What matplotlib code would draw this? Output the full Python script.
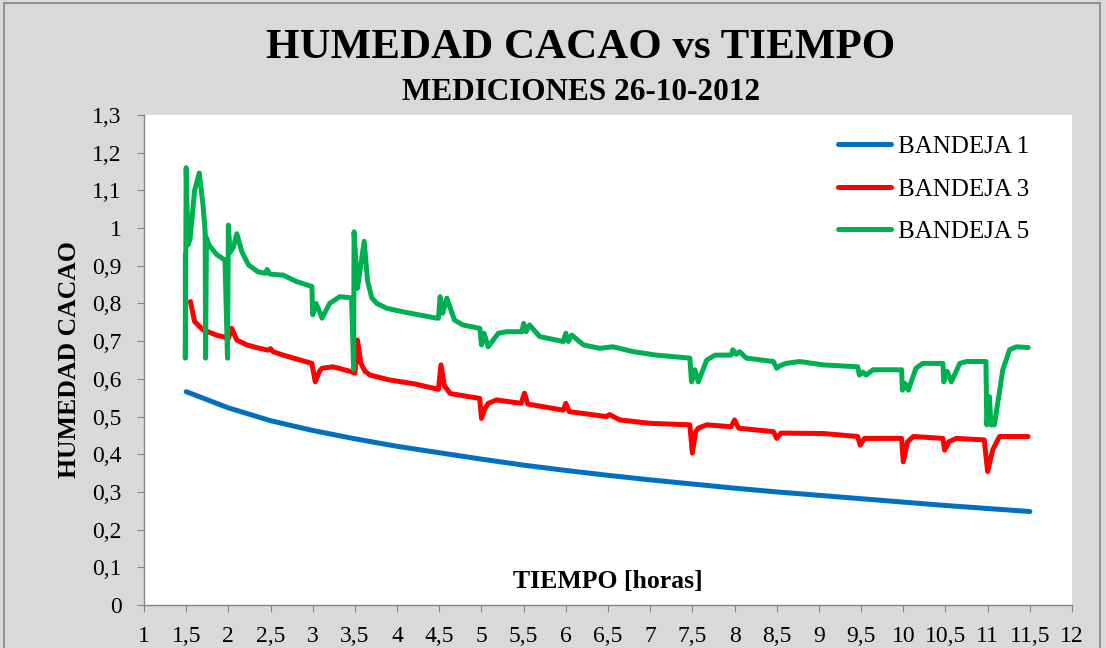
import numpy as np
import matplotlib
matplotlib.use("Agg")
import matplotlib.pyplot as plt
from matplotlib.patches import Rectangle

# Humedad del cacao por bandeja (tiempo en horas)
t_b1 = [1.5, 2.0, 2.5, 3.0, 3.5, 4.0, 4.5, 5.0, 5.5, 6.0, 6.5, 7.0, 7.5, 8.0,
        8.5, 9.0, 9.5, 10.0, 10.5, 11.0, 11.5]
h_b1 = [0.566, 0.523, 0.489, 0.463, 0.441, 0.421, 0.404, 0.387, 0.371, 0.357,
        0.344, 0.332, 0.321, 0.310, 0.300, 0.291, 0.282, 0.273, 0.264, 0.256, 0.248]

t_b3 = [1.55, 1.60, 1.70, 1.86, 2.0, 2.04, 2.10, 2.22, 2.35, 2.47, 2.5, 2.53,
        2.65, 2.85, 2.99, 3.03, 3.08, 3.11, 3.24, 3.46, 3.5, 3.53, 3.57, 3.62,
        3.68, 3.91, 4.2, 4.49, 4.52, 4.56, 4.63, 4.98, 5.0, 5.04, 5.08, 5.18,
        5.47, 5.51, 5.55, 5.97, 6.0, 6.04, 6.48, 6.52, 6.64, 7.0, 7.47, 7.5,
        7.54, 7.57, 7.67, 7.96, 8.0, 8.05, 8.46, 8.5, 8.55, 9.05, 9.46, 9.49,
        9.54, 9.98, 10.0, 10.05, 10.12, 10.47, 10.49, 10.54, 10.63, 10.96,
        11.0, 11.06, 11.14, 11.48]
h_b3 = [0.805, 0.752, 0.730, 0.716, 0.708, 0.734, 0.703, 0.690, 0.682, 0.676,
        0.680, 0.672, 0.663, 0.650, 0.641, 0.592, 0.620, 0.628, 0.632, 0.619,
        0.615, 0.703, 0.641, 0.620, 0.610, 0.597, 0.587, 0.572, 0.637, 0.582,
        0.561, 0.548, 0.495, 0.520, 0.535, 0.544, 0.535, 0.562, 0.533, 0.517,
        0.535, 0.513, 0.500, 0.505, 0.491, 0.482, 0.478, 0.403, 0.460, 0.469,
        0.478, 0.473, 0.491, 0.469, 0.460, 0.442, 0.456, 0.455, 0.447, 0.424,
        0.442, 0.442, 0.380, 0.433, 0.447, 0.442, 0.411, 0.433, 0.442, 0.438,
        0.354, 0.411, 0.447, 0.447]

t_b5 = [1.49, 1.49, 1.50, 1.52, 1.545, 1.60, 1.655, 1.70, 1.725, 1.73, 1.74,
        1.77, 1.86, 1.96, 1.99, 2.0, 2.02, 2.06, 2.10, 2.16, 2.24, 2.35, 2.44,
        2.46, 2.49, 2.65, 2.81, 2.99, 3.0, 3.04, 3.11, 3.2, 3.32, 3.46, 3.485,
        3.49, 3.53, 3.61, 3.65, 3.70, 3.76, 3.88, 4.11, 4.47, 4.49, 4.51, 4.54,
        4.59, 4.68, 4.78, 4.98, 5.0, 5.03, 5.08, 5.2, 5.3, 5.48, 5.50, 5.53,
        5.57, 5.69, 5.97, 6.0, 6.03, 6.07, 6.21, 6.40, 6.56, 6.80, 7.07, 7.47,
        7.49, 7.53, 7.57, 7.67, 7.77, 7.96, 7.98, 8.02, 8.06, 8.14, 8.46, 8.50,
        8.54, 8.61, 8.77, 9.05, 9.46, 9.48, 9.52, 9.56, 9.64, 9.98, 9.99, 10.02,
        10.06, 10.15, 10.23, 10.47, 10.48, 10.52, 10.57, 10.67, 10.75, 10.98,
        10.99, 11.02, 11.04, 11.08, 11.18, 11.26, 11.34, 11.48]
h_b5 = [0.930, 0.655, 1.160, 0.955, 0.970, 1.100, 1.146, 1.060, 0.990, 0.655,
        0.975, 0.955, 0.930, 0.915, 0.655, 1.008, 0.935, 0.950, 0.985, 0.937,
        0.902, 0.884, 0.880, 0.890, 0.878, 0.875, 0.858, 0.845, 0.770, 0.800,
        0.761, 0.800, 0.818, 0.815, 0.625, 0.990, 0.840, 0.965, 0.860, 0.815,
        0.800, 0.787, 0.776, 0.761, 0.761, 0.818, 0.774, 0.814, 0.756, 0.743,
        0.734, 0.690, 0.721, 0.685, 0.721, 0.725, 0.725, 0.747, 0.725, 0.743,
        0.712, 0.699, 0.721, 0.699, 0.716, 0.690, 0.681, 0.685, 0.672, 0.663,
        0.655, 0.592, 0.624, 0.592, 0.650, 0.663, 0.663, 0.677, 0.665, 0.672,
        0.655, 0.646, 0.628, 0.635, 0.641, 0.646, 0.637, 0.632, 0.610, 0.618,
        0.610, 0.624, 0.624, 0.570, 0.588, 0.570, 0.628, 0.641, 0.641, 0.592,
        0.620, 0.592, 0.641, 0.646, 0.646, 0.478, 0.553, 0.478, 0.478, 0.624,
        0.677, 0.685, 0.683]

x_ticks = np.arange(1, 12.01, 0.5)
y_ticks = np.arange(0, 1.301, 0.1)

def coma(v):
    s = ("%.1f" % v).rstrip("0").rstrip(".")
    return s.replace(".", ",")

plt.rcParams["font.family"] = ["Liberation Serif", "DejaVu Serif"]
gris = "#868686"

fig = plt.figure(figsize=(11.06, 6.48), dpi=100, facecolor="#D9D9D9")
fig.patches.append(Rectangle((4 / 1106, -0.05), 1096 / 1106, 1.05 - 3 / 648,
                             transform=fig.transFigure, fill=False,
                             edgecolor=gris, linewidth=1.2))
ax = fig.add_axes([144 / 1106, 1 - 605 / 648, 928 / 1106, 490 / 648])
ax.set_facecolor("white")

estilo = dict(lw=3.6, solid_capstyle="round", solid_joinstyle="round")
ax.plot(t_b1, h_b1, color="#0070C0", label="BANDEJA 1", **estilo)
ax.plot(t_b3, h_b3, color="#FF0000", label="BANDEJA 3", **estilo)
ax.plot(t_b5, h_b5, color="#00B050", label="BANDEJA 5", **estilo)

ax.set_xlim(1, 12)
ax.set_ylim(0, 1.3)
ax.set_xticks(x_ticks)
ax.set_xticklabels([coma(v) for v in x_ticks])
ax.set_yticks(y_ticks)
ax.set_yticklabels([coma(v) for v in y_ticks])
ax.tick_params(axis="both", direction="out", length=5, color=gris,
               labelsize=17, labelcolor="black")
ax.tick_params(axis="x", pad=10)
ax.tick_params(axis="y", pad=11)
for side in ("top", "right"):
    ax.spines[side].set_visible(False)
for side in ("left", "bottom"):
    ax.spines[side].set_color(gris)
    ax.spines[side].set_linewidth(1.0)

ax.text(0.5, 0.025, "TIEMPO [horas]", transform=ax.transAxes, ha="center",
        va="bottom", fontsize=18.5, fontweight="bold")
fig.text(70 / 1106, 1 - 360 / 648, "HUMEDAD CACAO", rotation=90, ha="center",
         va="center", fontsize=18.5, fontweight="bold")

fig.text(581 / 1106, 1 - 48 / 648, "HUMEDAD CACAO vs TIEMPO", ha="center",
         va="center", fontsize=31, fontweight="bold")
fig.text(581 / 1106, 1 - 92 / 648, "MEDICIONES 26-10-2012", ha="center",
         va="center", fontsize=22.5, fontweight="bold")

ax.legend(loc="upper left", bbox_to_anchor=(0.748, 0.958), frameon=False,
          fontsize=18, handlelength=2.1, handletextpad=0.3, labelspacing=0.8,
          borderaxespad=0, borderpad=0)

fig.savefig("out.png", dpi=100, facecolor=fig.get_facecolor())
